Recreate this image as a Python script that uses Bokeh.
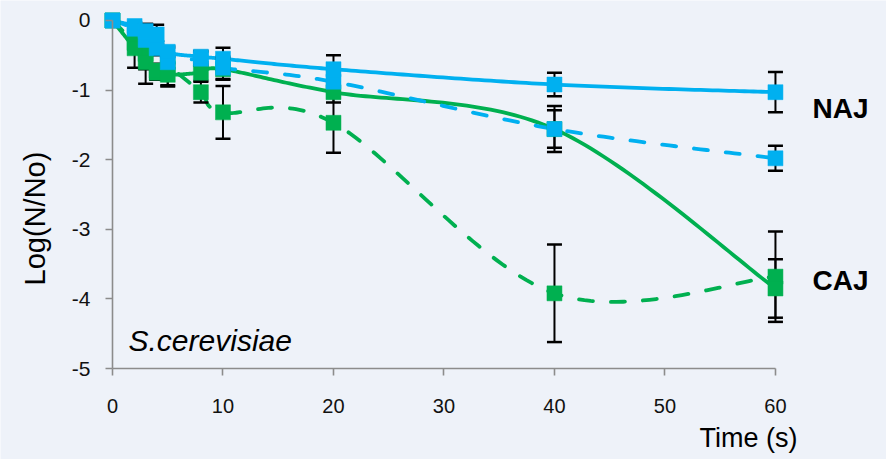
import math
import numpy as np
from bokeh.plotting import figure
from bokeh.models import Range1d, FixedTicker, Label
from bokeh.embed import file_html
from bokeh.resources import INLINE

# ---- data ----
time_s = [0, 2, 3, 4, 5, 8, 10, 20, 40, 60]

naj_solid = [0, -0.08, -0.15, -0.20, -0.45, -0.52, -0.55, -0.70, -0.92, -1.03]
naj_solid_err = [0, 0.05, 0.10, 0.14, 0.08, 0.08, 0.16, 0.20, 0.17, 0.29]

naj_dashed = [0, -0.12, -0.28, -0.40, -0.60, -0.55, -0.68, -0.88, -1.56, -1.98]
naj_dashed_err = [0, 0.05, 0.10, 0.10, 0.08, 0.10, 0.16, 0.15, 0.33, 0.18]

caj_solid = [0, -0.40, -0.60, -0.72, -0.78, -0.75, -0.70, -1.03, -1.56, -3.85]
caj_solid_err = [0, 0.28, 0.10, 0.10, 0.15, 0.12, 0.15, 0.15, 0.27, 0.42]

caj_dashed = [0, -0.32, -0.48, -0.75, -0.67, -1.03, -1.32, -1.47, -3.92, -3.68]
caj_dashed_err = [0, 0.10, 0.43, 0.10, 0.28, 0.15, 0.38, 0.43, 0.70, 0.65]

x_ticks = [0, 10, 20, 30, 40, 50, 60]
y_ticks = [0, -1, -2, -3, -4, -5]
y_tick_labels = ["0", "-1", "-2", "-3", "-4", "-5"]

BLUE = "#00b0f0"
GREEN = "#00b050"
BG = "#eef2f9"
FONT = "Liberation Sans"


def smooth(xs, ys, n=40):
    """Excel-like smoothed line: cubic Bezier segments with Catmull-Rom control points."""
    pts = np.column_stack([xs, ys]).astype(float)
    outx, outy = [], []
    m = len(pts)
    for i in range(m - 1):
        p0 = pts[i - 1] if i > 0 else pts[i]
        p1 = pts[i]
        p2 = pts[i + 1]
        p3 = pts[i + 2] if i + 2 < m else pts[i + 1]
        c1 = p1 + (p2 - p0) / 6.0
        c2 = p2 - (p3 - p1) / 6.0
        s = np.linspace(0, 1, n, endpoint=(i == m - 2))
        b = ((1 - s) ** 3)[:, None] * p1 + (3 * (1 - s) ** 2 * s)[:, None] * c1 \
            + (3 * (1 - s) * s ** 2)[:, None] * c2 + (s ** 3)[:, None] * p2
        outx.extend(b[:, 0])
        outy.extend(b[:, 1])
    return outx, outy


p = figure(width=886, height=459,
           x_range=Range1d(-10.136, 70.05), y_range=Range1d(-6.307, 0.287),
           output_backend="svg", toolbar_location=None,
           min_border_left=0, min_border_right=0,
           min_border_top=0, min_border_bottom=0)

p.background_fill_color = BG
p.border_fill_color = BG
p.outline_line_color = None
p.xgrid.visible = False
p.ygrid.visible = False

for ax in (p.xaxis[0], p.yaxis[0]):
    ax.axis_line_color = "#8c8c8c"
    ax.axis_line_width = 1.6
    ax.major_tick_line_color = "#8c8c8c"
    ax.major_tick_line_width = 1.6
    ax.major_tick_out = 7
    ax.major_tick_in = 0
    ax.minor_tick_line_color = None
    ax.major_label_text_font = FONT
    ax.major_label_text_color = "#111111"

p.xaxis.ticker = FixedTicker(ticks=x_ticks)
p.yaxis.ticker = FixedTicker(ticks=y_ticks)
p.yaxis.major_label_overrides = {t: lab for t, lab in zip(y_ticks, y_tick_labels)}
p.xaxis.bounds = (0, 60)
p.yaxis.bounds = (-5, 0)
p.yaxis.fixed_location = 0
p.xaxis.fixed_location = -5
p.xaxis.major_label_text_font_size = "20px"
p.yaxis.major_label_text_font_size = "21px"
p.xaxis.major_label_standoff = 23
p.yaxis.major_label_standoff = 15

series = [
    (caj_dashed, caj_dashed_err, GREEN, "14 18"),
    (caj_solid, caj_solid_err, GREEN, "solid"),
    (naj_dashed, naj_dashed_err, BLUE, "14 18"),
    (naj_solid, naj_solid_err, BLUE, "solid"),
]

# lines
for vals, err, col, dash in series:
    sx, sy = smooth(time_s, vals)
    p.line(sx, sy, line_color=col, line_width=3.8, line_dash=dash,
           line_cap="round", line_join="round")

# error bars
for vals, err, col, dash in series:
    xs = [t for t, e in zip(time_s, err) if e > 0]
    lo = [v - e for v, e in zip(vals, err) if e > 0]
    hi = [v + e for v, e in zip(vals, err) if e > 0]
    p.segment(x0=xs, y0=lo, x1=xs, y1=hi, line_color="black", line_width=2)
    p.scatter(xs + xs, lo + hi, marker="dash", size=15, line_color="black", line_width=2.5)

# markers
for vals, err, col, dash in series:
    p.scatter(time_s, vals, marker="square", size=15, fill_color=col, line_color=col, line_width=0.5)

# texts
common = dict(text_font=FONT, text_color="black", text_baseline="middle")
p.add_layout(Label(x=63.35, y=-1.264, text="NAJ", text_font_size="28px",
                   text_font_style="bold", text_align="left", **common))
p.add_layout(Label(x=63.35, y=-3.736, text="CAJ", text_font_size="28px",
                   text_font_style="bold", text_align="left", **common))
p.add_layout(Label(x=1.45, y=-4.6, text="S.cerevisiae", text_font_size="30px",
                   text_font_style="italic", text_align="left", **common))
p.add_layout(Label(x=62.0, y=-6.0, text="Time (s)", text_font_size="27px",
                   text_align="right", **common))
p.add_layout(Label(x=-6.97, y=-2.845, text="Log(N/No)", text_font_size="29px",
                   angle=math.pi / 2, text_align="center", **common))

open("out.html", "w").write(file_html(p, INLINE))
